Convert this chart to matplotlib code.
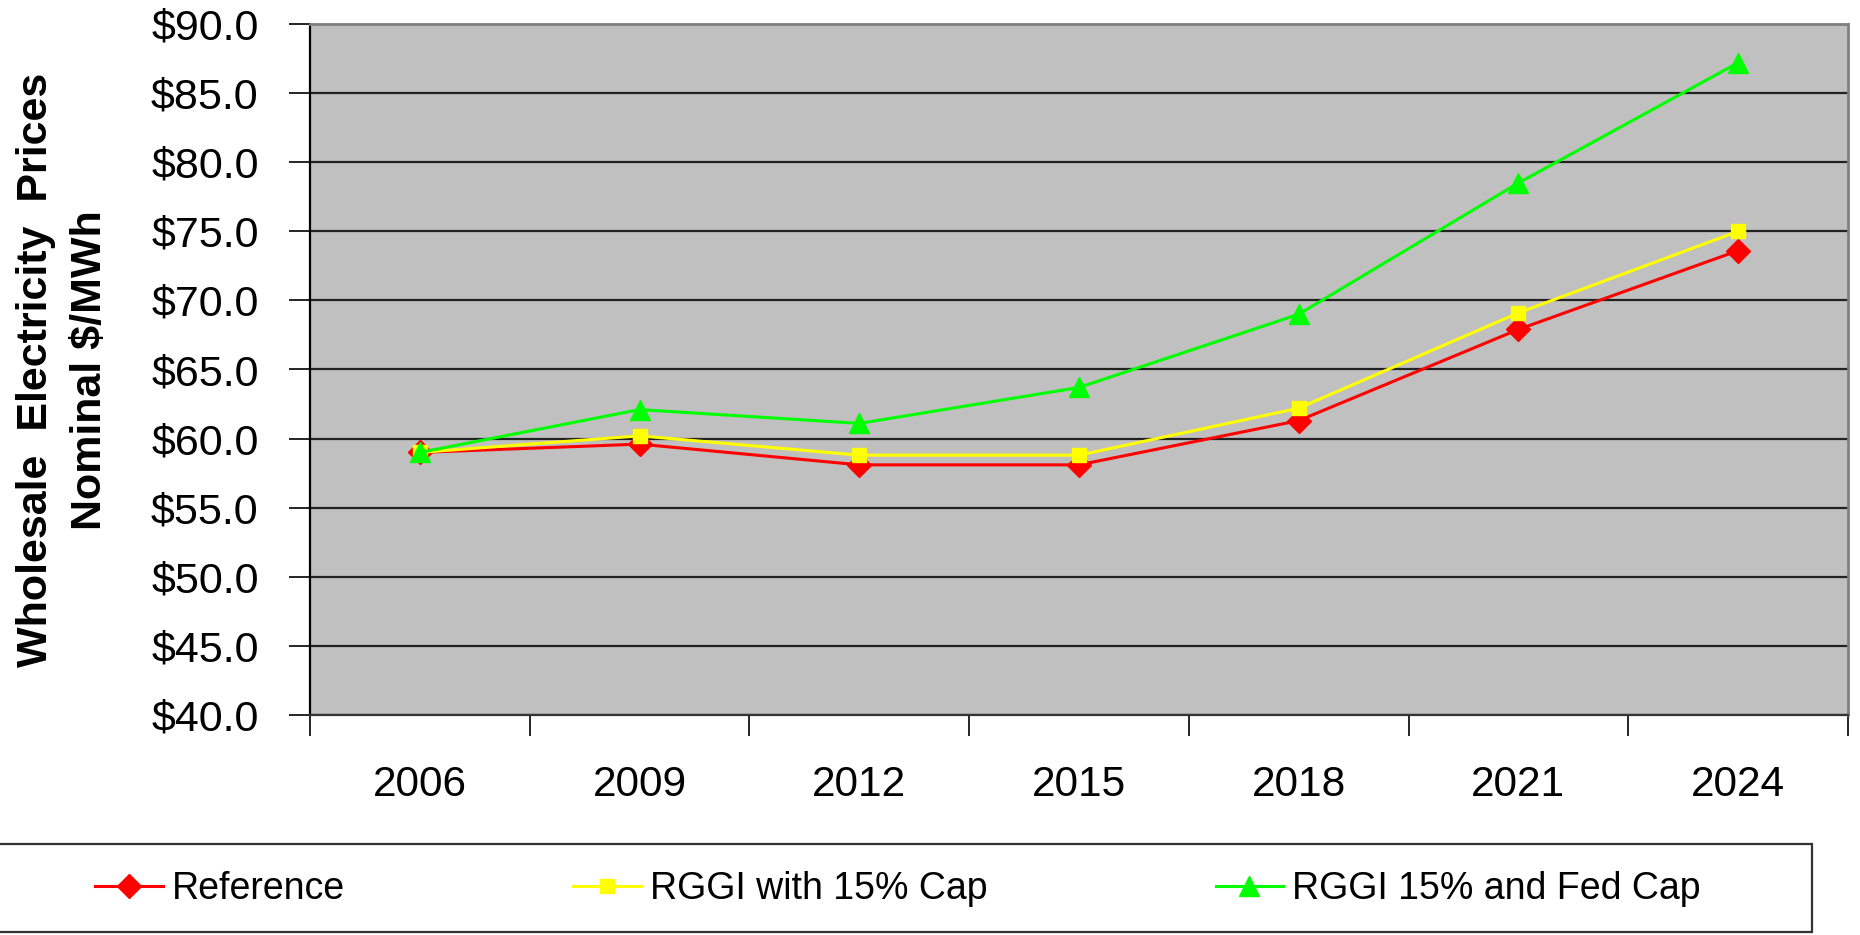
import numpy as np
import matplotlib
matplotlib.use('Agg')
import matplotlib.pyplot as plt
from matplotlib.patches import Rectangle

plt.rcParams['font.family'] = ['Liberation Sans', 'DejaVu Sans']

years = ['2006', '2009', '2012', '2015', '2018', '2021', '2024']
reference = [59.0, 59.6, 58.1, 58.1, 61.3, 67.9, 73.6]
rggi_15 = [59.0, 60.2, 58.8, 58.8, 62.2, 69.1, 75.0]
rggi_fed = [59.0, 62.1, 61.1, 63.7, 69.0, 78.5, 87.2]

series_names = ['Reference', 'RGGI with 15% Cap', 'RGGI 15% and Fed Cap']
series_colors = ['#FF0000', '#FFFF00', '#00FF00']
series_markers = ['D', 's', '^']
marker_sizes = [12, 10.5, 14]

y_ticks = np.arange(40, 91, 5)

fig = plt.figure(figsize=(18.6, 9.35), dpi=100)
ax = fig.add_axes([310 / 1860, 1 - 715 / 935, (1848 - 310) / 1860, (715 - 24) / 935])
ax.set_facecolor('#C0C0C0')

x = np.arange(len(years))
for vals, name, col, mk, ms in zip([reference, rggi_15, rggi_fed], series_names,
                                   series_colors, series_markers, marker_sizes):
    ax.plot(x, vals, color=col, marker=mk, markersize=ms, linewidth=2.2,
            markeredgecolor=col, label=name, zorder=3)

ax.set_xlim(-0.5, len(years) - 0.5)
ax.set_ylim(40, 90)
ax.set_yticks(y_ticks)
ax.set_yticklabels([f'${v:.1f}' for v in y_ticks])
ax.set_xticks(np.arange(-0.5, len(years), 1.0))
ax.set_xticklabels([])
ax.set_xticks(x, minor=True)
ax.set_xticklabels(years, minor=True)
ax.tick_params(axis='x', which='minor', length=0, pad=36, labelsize=30.5)
ax.tick_params(axis='x', which='major', length=15, width=1.2, direction='out')
ax.tick_params(axis='y', length=15, width=1.2, direction='out', pad=22, labelsize=31)

ax.grid(axis='y', color='#222222', linewidth=1.6)
ax.set_axisbelow(True)
ax.spines['left'].set_color('black')
ax.spines['left'].set_linewidth(1.6)
ax.spines['bottom'].set_color('#333333')
ax.spines['bottom'].set_linewidth(1.6)
for s in ['top', 'right']:
    ax.spines[s].set_color('#808080')
    ax.spines[s].set_linewidth(2)

fig.text(63 / 1860, 1 - 370 / 935, 'Wholesale  Electricity  Prices\nNominal $/MWh',
         rotation=90, ha='center', va='center', multialignment='center',
         fontsize=31, fontweight='bold', linespacing=1.45)

# legend box across the bottom
fig.patches.append(Rectangle((-0.01, 1 - 932 / 935), (1812 / 1860) + 0.01, 88 / 935,
                             transform=fig.transFigure, facecolor='white',
                             edgecolor='#333333', linewidth=1.6))
handles, labels = ax.get_legend_handles_labels()
fig.legend(handles, labels, loc='center left', bbox_to_anchor=(80 / 1860, 1 - 889 / 935),
           ncol=3, frameon=False, fontsize=27, handlelength=1.8, handletextpad=0.25,
           columnspacing=6.08, borderaxespad=0)

fig.savefig('out.png', dpi=100)
